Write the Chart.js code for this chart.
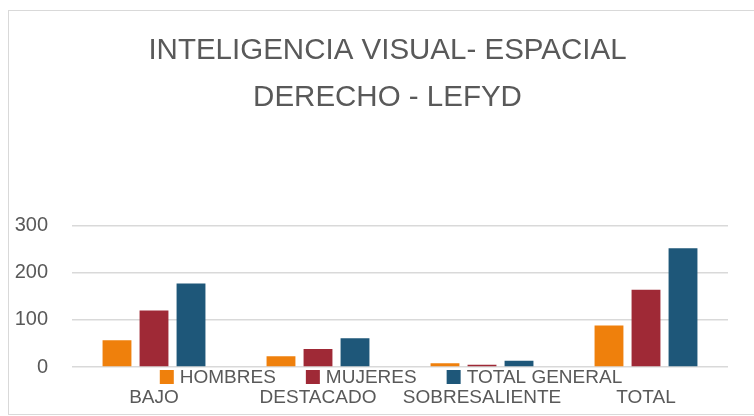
<!DOCTYPE html>
<html>
<head>
<meta charset="utf-8">
<script src="https://cdn.jsdelivr.net/npm/chart.js@4.4.0/dist/chart.umd.min.js"></script>
<style>
  html, body { margin: 0; padding: 0; background: #fff; overflow: hidden; }
  #wrap { position: relative; width: 754px; height: 416px; }
  #frame {
    position: absolute; left: 8px; top: 10px; width: 800px; height: 405px;
    border: 1px solid #d9d9d9; box-sizing: border-box; pointer-events: none;
  }
  canvas { position: absolute; left: 0; top: 0; }
</style>
</head>
<body>
<div id="wrap">
  <div id="frame"></div>
  <canvas id="chart" width="754" height="416"></canvas>
</div>
<script>
const categories = ["BAJO", "DESTACADO", "SOBRESALIENTE", "TOTAL"];
const hombres = [57, 23, 8, 88];
const mujeres = [120, 38, 5, 164];
const totalGeneral = [177, 61, 13, 252];
const yTicks = [0, 100, 200, 300];

const textColor = "#595959";
const fontFamily = '"Liberation Sans", Arial, sans-serif';

// legend drawn between the axis and the category labels, like the original
const bottomLegend = {
  id: "bottomLegend",
  afterLayout(chart) {
    // title in the original sits a bit right of the canvas centre
    const t = chart.titleBlock;
    if (t) {
      t.left += 16;
      t.right += 16;
    }
  },
  afterDraw(chart) {
    const { ctx, chartArea } = chart;
    const box = 14; // square size
    const gap = 6; // square to text
    const itemGap = 30; // between entries
    ctx.save();
    ctx.font = "19px " + fontFamily;
    ctx.textBaseline = "middle";
    ctx.textAlign = "left";
    const items = chart.data.datasets.map((ds) => ({
      text: ds.label,
      color: ds.backgroundColor,
      w: ctx.measureText(ds.label).width,
    }));
    const total =
      items.reduce((s, it) => s + box + gap + it.w, 0) + itemGap * (items.length - 1);
    let x = (chartArea.left + chartArea.right) / 2 - 9 - total / 2;
    const y = chartArea.bottom + 10;
    items.forEach((it) => {
      ctx.fillStyle = it.color;
      ctx.fillRect(x, y - box / 2, box, box);
      x += box + gap;
      ctx.fillStyle = textColor;
      ctx.fillText(it.text, x, y + 0.5);
      x += it.w + itemGap;
    });
    ctx.restore();
  },
};

new Chart(document.getElementById("chart"), {
  type: "bar",
  data: {
    labels: categories,
    datasets: [
      { label: "HOMBRES", data: hombres, backgroundColor: "#EF800C" },
      { label: "MUJERES", data: mujeres, backgroundColor: "#9F2936" },
      { label: "TOTAL GENERAL", data: totalGeneral, backgroundColor: "#1E5779" },
    ],
  },
  options: {
    responsive: false,
    animation: false,
    datasets: {
      bar: { categoryPercentage: 0.677, barPercentage: 0.78 },
    },
    layout: { padding: { left: 15, right: 26, top: 0, bottom: 6 } },
    plugins: {
      legend: { display: false },
      tooltip: { enabled: false },
      title: {
        display: true,
        text: ["INTELIGENCIA VISUAL- ESPACIAL", "DERECHO - LEFYD"],
        color: textColor,
        font: { family: fontFamily, size: 29.5, weight: "normal", lineHeight: 1.57 },
        padding: { top: 28, bottom: 105 },
      },
    },
    scales: {
      x: {
        grid: { display: false, drawTicks: false },
        border: { display: false },
        afterFit: (scale) => {
          scale.height = 43;
        },
        ticks: {
          color: textColor,
          font: { family: fontFamily, size: 19 },
          padding: 19,
          maxRotation: 0,
          autoSkip: false,
        },
      },
      y: {
        min: 0,
        max: 300,
        afterBuildTicks: (scale) => {
          scale.ticks = yTicks.map((v) => ({ value: v }));
        },
        afterFit: (scale) => {
          scale.width = 57;
        },
        grid: { color: "#d9d9d9", lineWidth: 1.5, drawTicks: false },
        border: { display: false },
        ticks: {
          color: textColor,
          font: { family: fontFamily, size: 20 },
          padding: 24,
        },
      },
    },
  },
  plugins: [bottomLegend],
});
</script>
</body>
</html>
